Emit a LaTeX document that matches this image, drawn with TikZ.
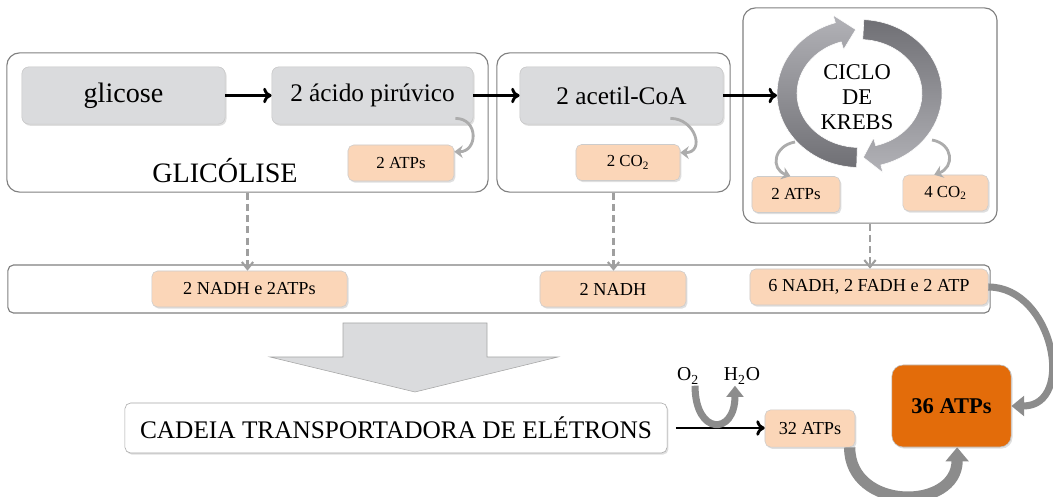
\documentclass[tikz,border=0pt]{standalone}
\usepackage{fontspec}
\setmainfont{Liberation Serif}
\usetikzlibrary{arrows.meta,shadows}
\definecolor{boxgray}{RGB}{218,219,221}
\definecolor{peach}{RGB}{251,214,184}
\definecolor{deeporange}{RGB}{227,108,10}
\definecolor{linegray}{RGB}{128,128,128}
\definecolor{ringdark}{RGB}{112,112,117}
\definecolor{ringlight}{RGB}{178,178,183}
\tikzset{
  softshadow/.style={drop shadow={shadow xshift=1pt, shadow yshift=-1.2pt, opacity=0.25}},
  groupbox/.style={draw=linegray, line width=0.8pt, rounded corners=9pt, fill=white, inner sep=0pt},
  stagebox/.style={draw=gray!45, fill=boxgray, rounded corners=5pt, softshadow, inner sep=0pt,
    minimum width=5.08cm, minimum height=1.43cm, font=\fontsize{18}{22}\selectfont},
  yieldbox/.style={draw=gray!40, fill=peach, rounded corners=4pt, softshadow, inner sep=0pt,
    minimum height=0.9cm, font=\fontsize{12}{14}\selectfont},
  flow/.style={-{To[length=6pt,width=11pt]}, line width=2pt},
  gain/.style={draw=gray!75, line width=1.5pt, dash pattern=on 5pt off 3pt, -{Straight Barb[length=5pt,width=8pt]}},
  twist/.style={draw=gray!65, line width=2pt, -{Stealth[length=6pt,width=9pt]}},
  band/.style={draw=black!45, -{Triangle[length=10pt,width=16pt]}}
}
\begin{document}
\begin{tikzpicture}[x=0.025cm, y=0.025cm]
\useasboundingbox (0,0) rectangle (1053,-497);
% caixas das etapas
\node[groupbox, minimum width=12.03cm, minimum height=3.48cm] (glycbox) at (247.5,-122.5) {};
\node[groupbox, minimum width=5.83cm, minimum height=3.48cm] (acetbox) at (613.5,-122.5) {};
\node[groupbox, minimum width=6.35cm, minimum height=5.38cm] (krebsbox) at (870,-115.5) {};
\node[groupbox, minimum width=24.55cm, minimum height=1.2cm, rounded corners=4pt] (nadhbar) at (499,-289) {};

% ciclo
\begin{scope}[shift={(859.5,-93.5)}]
  \shade[draw=white, top color=ringlight, bottom color=ringdark]
    (268:82.5 and 74) arc[start angle=268, end angle=107, x radius=82.5, y radius=74]
    -- (107:90.5 and 82) -- (93:72.5 and 64) -- (107:54.5 and 46) -- (107:62.5 and 54)
    arc[start angle=107, end angle=268, x radius=62.5, y radius=54] -- cycle;
  \shade[draw=white, top color=ringdark, bottom color=ringlight]
    (87:82.5 and 74) arc[start angle=87, end angle=-75, x radius=82.5, y radius=74]
    -- (-75:90.5 and 82) -- (-87:72.5 and 64) -- (-75:54.5 and 46) -- (-75:62.5 and 54)
    arc[start angle=-75, end angle=87, x radius=62.5, y radius=54] -- cycle;
\end{scope}
\node[align=center, font=\fontsize{16}{18}\selectfont] (krebs) at (857,-97) {CICLO\\DE\\KREBS};
\coordinate (krebsin) at (777,-97);
\coordinate (k1) at (795,-142);
\coordinate (k2) at (932,-140);

% etapas
\node[stagebox, font=\fontsize{20}{24}\selectfont] (glicose) at (123.5,-95.5) {glicose};
\node[stagebox, minimum width=5.03cm] (piruvico) at (372.5,-95.5) {2 ácido pirúvico};
\node[stagebox] (acetil) at (621.5,-95.5) {2 acetil-CoA};
\node[font=\fontsize{20}{24}\selectfont] (glicolise) at (225,-171) {GLICÓLISE};

% produtos
\node[yieldbox, minimum width=2.65cm] (atp1) at (401,-163) {2 ATPs};
\node[yieldbox, minimum width=2.6cm] (co2a) at (628,-162.5) {2 CO\textsubscript{2}};
\node[yieldbox, minimum width=2.2cm] (atp2) at (796,-194.5) {2 ATPs};
\node[yieldbox, minimum width=2.13cm] (co2b) at (945.5,-193) {4 CO\textsubscript{2}};
\node[yieldbox, minimum width=4.88cm, font=\fontsize{13}{15}\selectfont] (nadh1) at (249.5,-289) {2 NADH e 2ATPs};
\node[yieldbox, minimum width=3.65cm, font=\fontsize{13}{15}\selectfont] (nadh2) at (613,-289) {2 NADH};
\node[yieldbox, minimum width=5.95cm, font=\fontsize{13}{15}\selectfont] (nadh3) at (869,-287) {6 NADH, 2 FADH e 2 ATP};

% cadeia
\draw[draw=gray!70, fill=boxgray] (343,-323) -- (487,-323) -- (487,-357) -- (558,-357)
  -- (415,-392) -- (270,-357) -- (343,-357) -- cycle;
\node[draw=gray!70, fill=white, rounded corners=4pt, softshadow, inner sep=0pt,
  minimum width=13.55cm, minimum height=1.25cm, font=\fontsize{18}{22}\selectfont] (cadeia) at (396,-428) {CADEIA TRANSPORTADORA DE ELÉTRONS};
\node[yieldbox, minimum width=2.25cm, minimum height=0.93cm, font=\fontsize{13}{15}\selectfont] (atp32) at (810,-428.5) {32 ATPs};
\node[draw=gray!50, fill=deeporange, rounded corners=8pt, softshadow, inner sep=0pt,
  minimum width=2.98cm, minimum height=2.05cm, font=\fontsize{16}{18}\selectfont\bfseries] (atp36) at (951.5,-406) {36 ATPs};
\node[inner sep=1pt, font=\fontsize{14}{16}\selectfont] (o2) at (688,-376) {O\textsubscript{2}};
\node[inner sep=1pt, font=\fontsize{14}{16}\selectfont] (h2o) at (742,-376) {H\textsubscript{2}O};

% setas
\draw[flow] (glicose) -- (piruvico);
\draw[flow] (piruvico) -- (acetil);
\draw[flow] (acetil.east) -- (acetil.east -| krebsin);
\draw[flow, shorten <=6pt] (cadeia.east) -- (cadeia.east -| atp32.west);
\draw[twist] ([shift={(-18,6)}]piruvico.south east) to[out=0, in=0, looseness=1.8] ([yshift=8]atp1.east);
\draw[twist] ([shift={(-53,6)}]acetil.south east) to[out=0, in=0, looseness=1.8] ([yshift=7]co2a.east);
\draw[twist] (k1) to[out=190, in=160, looseness=1.6] ([xshift=-4]atp2.north);
\draw[twist] (k2) to[out=-10, in=20, looseness=1.6] ([xshift=-8]co2b.north);
\draw[gain] (glycbox.south) -- (glycbox.south |- nadh1.north);
\draw[gain] (acetbox.south) -- (acetbox.south |- nadh2.north);
\draw[gain] (krebsbox.south) -- (krebsbox.south |- nadh3.north);
\draw[band, line width=5pt, -{Triangle[length=9pt,width=14pt]}] (nadh3.east) .. controls +(65,0) and +(65,0) .. (atp36.east);
\draw[band, line width=8pt] ([xshift=-4]atp32.south east) .. controls +(0,-64) and +(0,-64) .. ([xshift=4]atp36.south);
\draw[band, line width=5pt, -{Triangle[length=8pt,width=12pt]}] ([xshift=5]o2.south) .. controls +(0,-50) and +(0,-50) .. ([xshift=-5]h2o.south);
\end{tikzpicture}
\end{document}
